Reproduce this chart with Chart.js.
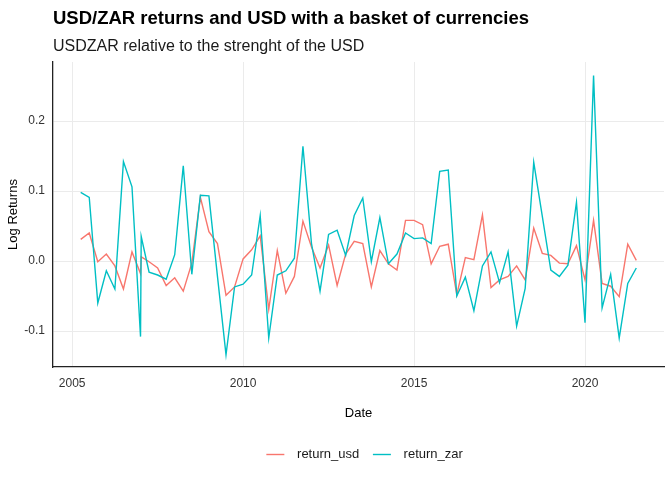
<!DOCTYPE html>
<html><head><meta charset="utf-8">
<script src="https://cdn.jsdelivr.net/npm/chart.js@4.4.1/dist/chart.umd.min.js"></script>
<style>html,body{margin:0;padding:0;background:#fff;} canvas{display:block}</style>
</head><body>
<canvas id="c" width="672" height="480"></canvas>
<script>
const dates = [2005.25,2005.5,2005.75,2006,2006.25,2006.5,2006.75,2007,2007.02,2007.25,2007.5,2007.75,
  2008,2008.25,2008.5,2008.75,2009,2009.25,2009.5,2009.75,2010,2010.25,2010.5,2010.75,
  2011,2011.25,2011.5,2011.75,2012,2012.25,2012.5,2012.75,2013,2013.25,2013.5,2013.75,
  2014,2014.25,2014.5,2014.75,2015,2015.25,2015.5,2015.75,2016,2016.25,2016.5,2016.75,
  2017,2017.25,2017.5,2017.75,2018,2018.25,2018.5,2018.75,2019,2019.25,2019.5,2019.75,
  2020,2020.25,2020.5,2020.75,2021,2021.25,2021.5];
const returnUsd = [0.031,0.040,-0.001,0.010,-0.007,-0.040,0.013,-0.018,0.006,-0.001,-0.010,-0.035,
  -0.024,-0.043,-0.003,0.091,0.042,0.025,-0.049,-0.037,0.003,0.016,0.036,-0.069,
  0.015,-0.046,-0.022,0.057,0.020,-0.010,0.023,-0.035,0.010,0.028,0.025,-0.037,
  0.015,-0.004,-0.013,0.058,0.058,0.052,-0.004,0.021,0.024,-0.048,0.005,0.002,
  0.066,-0.038,-0.027,-0.022,-0.007,-0.027,0.047,0.011,0.008,-0.003,-0.004,0.022,
  -0.027,0.058,-0.032,-0.036,-0.051,0.024,0.001];
const returnZar = [0.098,0.091,-0.060,-0.014,-0.040,0.142,0.106,-0.108,0.035,-0.016,-0.020,-0.026,
  0.009,0.136,-0.019,0.094,0.093,-0.022,-0.134,-0.037,-0.033,-0.020,0.065,-0.110,
  -0.020,-0.014,0.004,0.164,0.025,-0.043,0.038,0.044,0.008,0.065,0.090,-0.001,
  0.062,-0.004,0.010,0.040,0.032,0.033,0.025,0.128,0.130,-0.050,-0.023,-0.071,
  -0.007,0.013,-0.031,0.013,-0.093,-0.039,0.141,0.064,-0.013,-0.022,-0.006,0.084,
  -0.088,0.265,-0.067,-0.019,-0.110,-0.032,-0.010];
const seriesNames = ['return_usd','return_zar'];
const xTicks = [2005,2010,2015,2020];
const yTicks = [-0.1,0,0.1,0.2];

const FONT = '"Liberation Sans", Arial, Helvetica, sans-serif';

const bottomLegend = {
  id: 'bottomLegend',
  afterDraw(chart) {
    const ctx = chart.ctx;
    ctx.save();
    ctx.font = '13px ' + FONT;
    ctx.textBaseline = 'middle';
    ctx.textAlign = 'left';
    const y = 454.5;
    const keyW = 18, gapText = 12.7, gapItem = 13.7;
    const items = chart.data.datasets.map(d => ({label: d.label, color: d.borderColor, w: ctx.measureText(d.label).width}));
    let total = 0;
    items.forEach((it, i) => { total += keyW + gapText + it.w + (i < items.length - 1 ? gapItem : 0); });
    let x = 364.6 - total / 2;
    items.forEach(it => {
      ctx.strokeStyle = it.color;
      ctx.lineWidth = 1.4;
      ctx.beginPath();
      ctx.moveTo(x, y);
      ctx.lineTo(x + keyW, y);
      ctx.stroke();
      ctx.fillStyle = '#1a1a1a';
      ctx.fillText(it.label, x + keyW + gapText, y);
      x += keyW + gapText + it.w + gapItem;
    });
    ctx.restore();
  }
};

new Chart(document.getElementById('c'), {
  type: 'line',
  data: {
    datasets: [
      {label: seriesNames[0], data: dates.map((d, i) => ({x: d, y: returnUsd[i]})), borderColor: '#F8766D', backgroundColor: '#F8766D', order: 1},
      {label: seriesNames[1], data: dates.map((d, i) => ({x: d, y: returnZar[i]})), borderColor: '#00BFC4', backgroundColor: '#00BFC4', order: 0}
    ]
  },
  options: {
    responsive: false,
    animation: false,
    events: [],
    layout: {padding: {left: 0, right: 8, top: 0, bottom: 59.2}},
    elements: {line: {borderWidth: 1.4, tension: 0}, point: {radius: 0, hoverRadius: 0}},
    plugins: {
      legend: {display: false},
      tooltip: {enabled: false},
      title: {display: true, text: 'USD/ZAR returns and USD with a basket of currencies', align: 'start', fullSize: false,
        color: '#000', font: {family: FONT, size: 18.5, weight: 'bold', lineHeight: 1}, padding: {top: 9.25, bottom: 0}},
      subtitle: {display: true, text: 'USDZAR relative to the strenght of the USD', align: 'start', fullSize: false,
        color: '#1a1a1a', font: {family: FONT, size: 16, lineHeight: 1}, padding: {top: 11.25, bottom: 7}}
    },
    scales: {
      x: {
        type: 'linear', min: 2004.44, max: 2022.31,
        afterBuildTicks(s) { s.ticks = xTicks.map(v => ({value: v})); },
        afterFit(s) { s.height = 53.8; },
        ticks: {callback: v => String(v), color: '#333', font: {family: FONT, size: 12}, padding: 9, maxRotation: 0, autoSkip: false},
        grid: {color: '#ebebeb', lineWidth: 1, drawTicks: false},
        border: {display: true, color: '#222', width: 1.3},
        title: {display: true, text: 'Date', color: '#000', font: {family: FONT, size: 13}, padding: {top: 0, bottom: 0}}
      },
      y: {
        type: 'linear', min: -0.1514, max: 0.2843,
        afterBuildTicks(s) { s.ticks = yTicks.map(v => ({value: v})); },
        afterFit(s) { s.width = 53; },
        ticks: {callback: v => v.toFixed(1), color: '#333', font: {family: FONT, size: 12}, padding: 8},
        grid: {color: '#ebebeb', lineWidth: 1, drawTicks: false},
        border: {display: true, color: '#222', width: 1.3},
        title: {display: true, text: 'Log Returns', color: '#000', font: {family: FONT, size: 13}, padding: {top: 5.7, bottom: 0}}
      }
    }
  },
  plugins: [bottomLegend]
});
</script>
</body></html>
